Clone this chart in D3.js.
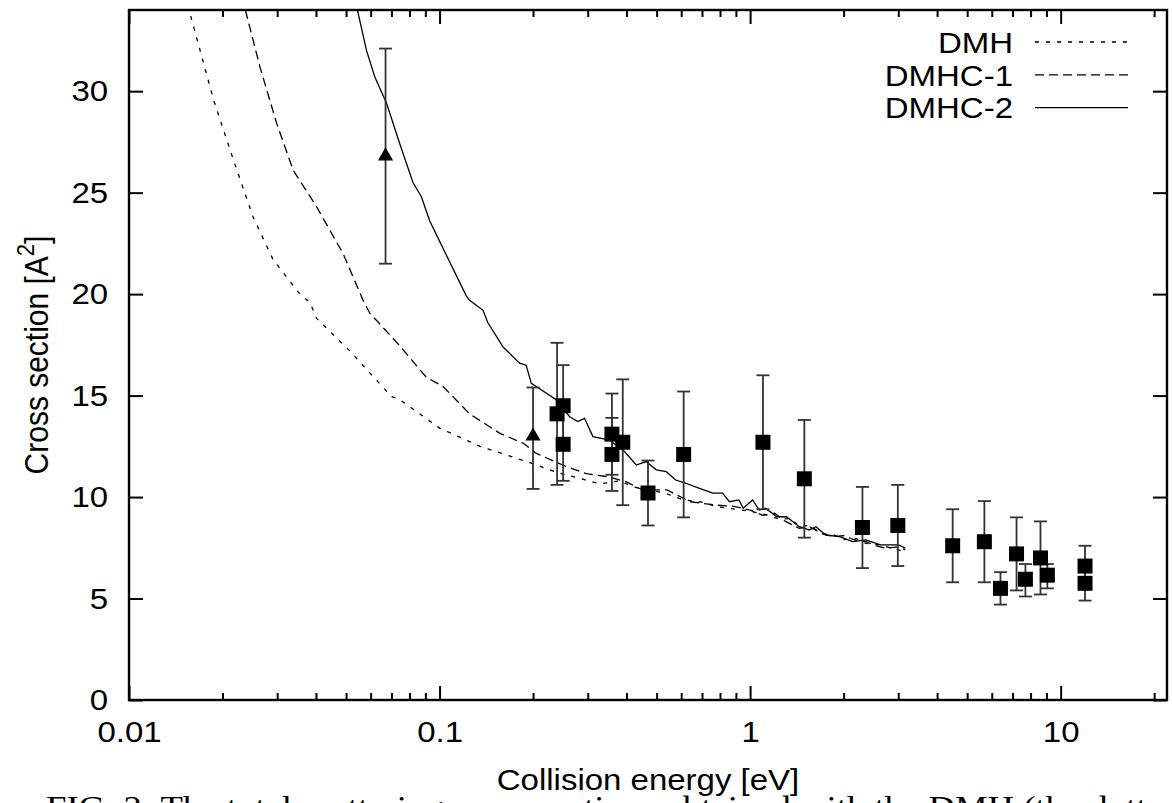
<!DOCTYPE html>
<html>
<head>
<meta charset="utf-8">
<script src="https://cdn.jsdelivr.net/npm/d3@7"></script>
<style>
	body { margin: 0; background: #fff; }
	svg { display: block; font-family: "Liberation Sans", Arial, sans-serif; }
</style>
</head>
<body>
<svg id="chart"></svg>
<script>
// axis ticks
const xTickValues = [0.01, 0.1, 1, 10];
const xTickLabels = ["0.01", "0.1", "1", "10"];
const yTickValues = [0, 5, 10, 15, 20, 25, 30];

// theory curves (energy in eV, cross section in A^2)
const dmhEnergy = [0.0158, 0.0187, 0.0217, 0.0251, 0.0291, 0.0355, 0.0382, 0.0402, 0.0514, 0.0658, 0.070, 0.0745, 0.100, 0.135, 0.195, 0.24, 0.33, 0.38, 0.42, 0.47, 0.53, 0.61, 0.70, 0.78, 0.90, 1.0, 1.13, 1.25, 1.35, 1.44, 1.55, 1.70, 1.85, 2.0, 2.2, 2.36, 2.6, 2.9, 3.16];
const dmhSigma = [33.7, 29.6, 26.6, 23.8, 21.7, 20.0, 19.6, 18.8, 17.2, 15.4, 14.95, 14.8, 13.4, 12.5, 11.7, 11.2, 10.65, 10.8, 10.5, 10.35, 10.2, 9.86, 9.75, 9.53, 9.4, 9.3, 9.12, 8.9, 8.95, 8.54, 8.6, 8.2, 8.15, 7.9, 7.95, 7.72, 7.65, 7.45, 7.31];

const dmhc1Energy = [0.0237, 0.0264, 0.0299, 0.0338, 0.0402, 0.0489, 0.0567, 0.0596, 0.0627, 0.0745, 0.0907, 0.1026, 0.125, 0.156, 0.186, 0.205, 0.256, 0.297, 0.35, 0.40, 0.45, 0.54, 0.64, 0.78, 0.88, 1.0, 1.1, 1.2, 1.3, 1.44, 1.55, 1.7, 1.85, 2.0, 2.2, 2.36, 2.55, 2.74, 3.0, 3.16];
const dmhc1Sigma = [34.0, 31.2, 28.4, 26.1, 24.3, 22.0, 19.7, 19.06, 18.7, 17.45, 15.9, 15.45, 14.1, 13.15, 12.65, 12.15, 11.5, 11.15, 11.0, 10.75, 10.35, 10.35, 9.77, 9.6, 9.55, 9.36, 9.1, 9.2, 8.8, 8.46, 8.55, 8.2, 8.05, 8.1, 7.85, 7.8, 7.6, 7.48, 7.55, 7.4];

const dmhc2Energy = [0.0544, 0.0582, 0.0619, 0.0675, 0.0745, 0.0821, 0.0874, 0.093, 0.122, 0.125, 0.138, 0.143, 0.16, 0.181, 0.19, 0.1975, 0.2375, 0.2623, 0.279, 0.293, 0.3118, 0.3525, 0.394, 0.43, 0.4625, 0.4985, 0.537, 0.576, 0.622, 0.687, 0.759, 0.815, 0.858, 0.92, 0.95, 1.019, 1.07, 1.12, 1.22, 1.31, 1.44, 1.55, 1.63, 1.75, 1.94, 2.14, 2.36, 2.63, 3.0, 3.16];
const dmhc2Sigma = [34.0, 32.0, 30.7, 29.4, 27.4, 25.5, 24.8, 23.6, 19.9, 19.7, 19.2, 18.6, 17.4, 16.6, 16.5, 15.6, 14.8, 13.96, 13.72, 13.88, 12.98, 12.81, 12.24, 11.58, 11.75, 11.34, 11.25, 10.84, 10.68, 10.43, 10.19, 10.19, 9.77, 9.86, 9.45, 9.86, 9.36, 9.45, 9.03, 9.03, 8.54, 8.38, 8.54, 8.13, 8.05, 7.8, 7.89, 7.64, 7.64, 7.48];

// experimental points, squares
const sqEnergy = [0.239, 0.25, 0.25, 0.359, 0.359, 0.389, 0.469, 0.611, 1.10, 1.495, 2.30, 2.99, 4.49, 5.68, 6.40, 7.21, 7.70, 8.61, 9.06, 11.98, 11.98];
const sqSigma = [14.1, 14.5, 12.6, 13.1, 12.1, 12.7, 10.2, 12.1, 12.7, 10.9, 8.5, 8.6, 7.6, 7.8, 5.5, 7.2, 5.95, 7.0, 6.15, 6.6, 5.75];
const sqLow = [10.6, 12.6, 10.8, 11.1, 10.3, 9.6, 8.6, 9.0, 9.4, 8.0, 6.5, 6.6, 5.8, 5.8, 4.7, 5.4, 5.1, 5.2, 5.5, 5.7, 4.9];
const sqHigh = [17.6, 16.5, 14.4, 15.1, 13.9, 15.8, 11.8, 15.2, 16.0, 13.8, 10.5, 10.6, 9.4, 9.8, 6.3, 9.0, 6.7, 8.8, 6.7, 7.6, 6.6];

// experimental points, triangles
const triEnergy = [0.067, 0.2];
const triSigma = [26.8, 13.0];
const triLow = [21.5, 10.4];
const triHigh = [32.1, 15.4];

const seriesNames = ["DMH", "DMHC-1", "DMHC-2"];
const seriesDash = ["4,7", "9,5", null];

const size = { w: 1172, h: 803 };
const margin = { t: 10, r: 5, b: 103, l: 129 };
const stretch = 1.1; // text in the figure is slightly wide
const fontSize = 30;

const svg = d3.select("svg#chart").attr("width", size.w).attr("height", size.h);

const x = d3.scaleLog().domain([0.01, 22]).range([margin.l, size.w - margin.r]);
const y = d3.scaleLinear().domain([0, 34]).range([size.h - margin.b, margin.t]);

const [x0, x1] = x.range();
const [y0, y1] = y.range();

// clip for curves
svg.append("defs").append("clipPath").attr("id", "plotClip")
	.append("rect").attr("x", x0).attr("y", y1).attr("width", x1 - x0).attr("height", y0 - y1);

// minor ticks on log axis
let minorTicks = [];
[0.01, 0.1, 1, 10].forEach((dec) => {
	for (let k = 2; k <= 9; k++) {
		if (dec * k <= 22) minorTicks.push(dec * k);
	}
});

const axisStyle = (g) => {
	g.select(".domain").remove();
	g.selectAll("line").attr("stroke", "#000").attr("stroke-width", 2);
};
const labelStyle = (g) => {
	g.selectAll("text")
		.attr("font-size", fontSize)
		.attr("font-family", "Liberation Sans, Arial, sans-serif")
		.attr("fill", "#000")
		.attr("transform", `scale(${stretch},1)`);
};

// bottom axis
svg.append("g")
	.attr("transform", `translate(0, ${y0})`)
	.call(d3.axisBottom(x).tickValues(xTickValues).tickFormat((d, i) => xTickLabels[i]).tickSizeInner(-14).tickSizeOuter(0).tickPadding(21))
	.call(axisStyle)
	.call(labelStyle);
svg.append("g")
	.attr("transform", `translate(0, ${y0})`)
	.call(d3.axisBottom(x).tickValues(minorTicks).tickFormat("").tickSizeInner(-7).tickSizeOuter(0))
	.call(axisStyle);

// top axis (mirror)
svg.append("g")
	.attr("transform", `translate(0, ${y1})`)
	.call(d3.axisTop(x).tickValues(xTickValues).tickFormat("").tickSizeInner(-14).tickSizeOuter(0))
	.call(axisStyle);
svg.append("g")
	.attr("transform", `translate(0, ${y1})`)
	.call(d3.axisTop(x).tickValues(minorTicks).tickFormat("").tickSizeInner(-7).tickSizeOuter(0))
	.call(axisStyle);

// left axis
svg.append("g")
	.attr("transform", `translate(${x0}, 0)`)
	.call(d3.axisLeft(y).tickValues(yTickValues).tickSizeInner(-14).tickSizeOuter(0).tickPadding(19))
	.call(axisStyle)
	.call(labelStyle);

// right axis (mirror)
svg.append("g")
	.attr("transform", `translate(${x1}, 0)`)
	.call(d3.axisRight(y).tickValues(yTickValues).tickFormat("").tickSizeInner(-14).tickSizeOuter(0))
	.call(axisStyle);

// curves
const curveData = [
	d3.zip(dmhEnergy, dmhSigma),
	d3.zip(dmhc1Energy, dmhc1Sigma),
	d3.zip(dmhc2Energy, dmhc2Sigma),
];
const line = d3.line().x((d) => x(d[0])).y((d) => y(d[1]));

svg.append("g").attr("clip-path", "url(#plotClip)")
	.selectAll("path")
	.data(curveData)
	.join("path")
	.attr("d", line)
	.attr("fill", "none")
	.attr("stroke", "#000")
	.attr("stroke-width", 1.3)
	.attr("stroke-dasharray", (d, i) => seriesDash[i]);

// error bars
const points = sqEnergy.map((e, i) => ({ e, s: sqSigma[i], lo: sqLow[i], hi: sqHigh[i], shape: "square" }))
	.concat(triEnergy.map((e, i) => ({ e, s: triSigma[i], lo: triLow[i], hi: triHigh[i], shape: "triangle" })));

const bars = svg.append("g").attr("stroke", "#333").attr("stroke-width", 1.8);
bars.selectAll("line.v").data(points).join("line").classed("v", true)
	.attr("x1", (d) => x(d.e)).attr("x2", (d) => x(d.e))
	.attr("y1", (d) => y(d.lo)).attr("y2", (d) => y(d.hi));
bars.selectAll("line.lo").data(points).join("line").classed("lo", true)
	.attr("x1", (d) => x(d.e) - 6.5).attr("x2", (d) => x(d.e) + 6.5)
	.attr("y1", (d) => y(d.lo)).attr("y2", (d) => y(d.lo));
bars.selectAll("line.hi").data(points).join("line").classed("hi", true)
	.attr("x1", (d) => x(d.e) - 6.5).attr("x2", (d) => x(d.e) + 6.5)
	.attr("y1", (d) => y(d.hi)).attr("y2", (d) => y(d.hi));

// markers
svg.append("g").selectAll("path")
	.data(points)
	.join("path")
	.attr("d", (d) => d.shape === "square" ? d3.symbol(d3.symbolSquare, 15 * 15)() : d3.symbol(d3.symbolTriangle, 100)())
	.attr("transform", (d) => `translate(${x(d.e)}, ${y(d.s)})`)
	.attr("fill", "#000");

// frame
svg.append("rect")
	.attr("x", x0).attr("y", y1).attr("width", x1 - x0).attr("height", y0 - y1)
	.attr("fill", "none").attr("stroke", "#000").attr("stroke-width", 2.4);

// legend
const legend = svg.append("g").selectAll("g")
	.data(seriesNames)
	.join("g")
	.attr("transform", (d, i) => `translate(0, ${42 + i * 32.8})`);
legend.append("text")
	.attr("transform", `translate(1013, 0) scale(${stretch},1)`)
	.attr("dy", "0.36em")
	.attr("text-anchor", "end")
	.attr("font-size", fontSize)
	.text((d) => d);
legend.append("line")
	.attr("x1", 1035).attr("x2", 1128)
	.attr("stroke", "#000").attr("stroke-width", 1.3)
	.attr("stroke-dasharray", (d, i) => seriesDash[i]);

// axis titles
svg.append("text")
	.attr("transform", `translate(${(x0 + x1) / 2}, 790) scale(${stretch},1)`)
	.attr("text-anchor", "middle")
	.attr("font-size", fontSize)
	.text("Collision energy [eV]");

const yTitle = svg.append("text")
	.attr("transform", `translate(48, ${(y0 + y1) / 2}) scale(${stretch},1) rotate(-90)`)
	.attr("text-anchor", "middle")
	.attr("font-size", fontSize);
yTitle.append("tspan").text("Cross section [A");
yTitle.append("tspan").attr("font-size", 22).attr("dy", -13).text("2");
yTitle.append("tspan").attr("dy", 13).text("]");

// caption of the page, cut by the bottom edge
svg.append("text")
	.attr("x", 46).attr("y", 818)
	.attr("font-family", "Liberation Serif, Times New Roman, serif")
	.attr("font-size", 32)
	.attr("textLength", 1135)
	.attr("lengthAdjust", "spacingAndGlyphs")
	.text("FIG. 2: The total scattering cross sections obtained with the DMH (the dotted");
</script>
</body>
</html>
